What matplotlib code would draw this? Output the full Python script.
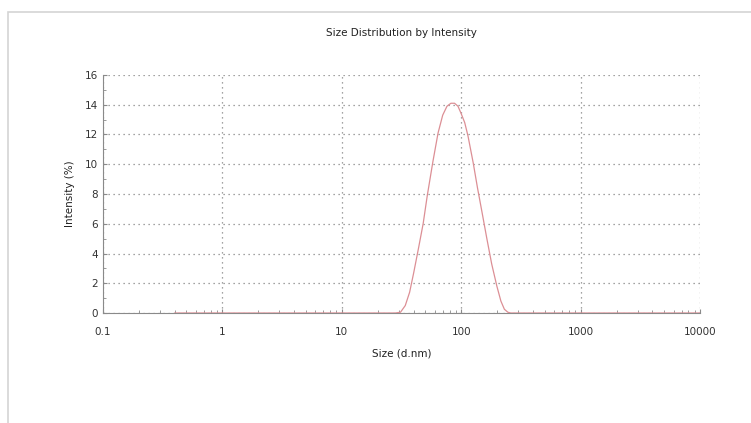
import numpy as np
import matplotlib
matplotlib.use("Agg")
import matplotlib.pyplot as plt
from matplotlib.patches import Rectangle
from matplotlib.ticker import FixedLocator, LogLocator, NullFormatter

# size distribution (d.nm vs intensity %)
size_nm = [0.4, 1, 10, 24, 28, 31, 34, 37, 40, 44, 48, 52, 58, 64, 70, 76,
           82, 88, 94, 100, 107, 114, 126, 137, 150, 164, 180, 199, 215,
           230, 246, 260, 300, 1000, 10000]
intensity = [0, 0, 0, 0, 0, 0.05, 0.5, 1.4, 2.7, 4.4, 6.0, 7.9, 10.2, 12.1,
             13.3, 13.9, 14.1, 14.1, 13.9, 13.4, 12.8, 11.9, 10.1, 8.4, 6.7,
             5.0, 3.3, 1.8, 0.8, 0.25, 0.05, 0, 0, 0, 0]

x_ticks = [0.1, 1, 10, 100, 1000, 10000]
x_labels = ["0.1", "1", "10", "100", "1000", "10000"]
y_ticks = [0, 2, 4, 6, 8, 10, 12, 14, 16]

plt.rcParams['font.family'] = ['DejaVu Sans']
fig = plt.figure(figsize=(7.51, 4.23), dpi=100)
fig.patches.append(Rectangle((8/751, -0.1), 1.0, 1 - 12/423 + 0.1,
                             transform=fig.transFigure, fill=False,
                             edgecolor='#d4d4d4', linewidth=1.2))

ax = fig.add_axes([103/751, 1 - 313/423, 597/751, 238/423])
ax.semilogx(size_nm, intensity, color='#dc8f95', linewidth=0.9, zorder=3)

ax.set_xlim(0.1, 10000)
ax.set_ylim(0, 16)
ax.set_xticks(x_ticks)
ax.set_xticklabels(x_labels)
ax.xaxis.set_minor_locator(LogLocator(base=10, subs=np.arange(2, 10)))
ax.xaxis.set_minor_formatter(NullFormatter())
ax.set_yticks(y_ticks)
ax.yaxis.set_minor_locator(FixedLocator(np.arange(1, 16, 2)))

ax.grid(True, which='major', linestyle=(0, (1, 3)), color='#858585',
        linewidth=0.9)
for s in ['top', 'right']:
    ax.spines[s].set_visible(False)
for s in ['left', 'bottom']:
    ax.spines[s].set_color('#8a8a8a')
    ax.spines[s].set_linewidth(0.8)
ax.tick_params(which='both', direction='in', colors='#8a8a8a',
               labelcolor='#333333', labelsize=7.5)
ax.tick_params(which='major', length=3)
ax.tick_params(which='minor', length=2)
ax.tick_params(axis='x', which='major', pad=10)

ax.set_title("Size Distribution by Intensity", fontsize=7.5,
             color='#222222', pad=28)
ax.set_xlabel("Size (d.nm)", fontsize=7.5, color='#222222', labelpad=8)
ax.set_ylabel("Intensity (%)", fontsize=7.5, color='#222222', labelpad=7)

fig.savefig("out.png", dpi=100)
